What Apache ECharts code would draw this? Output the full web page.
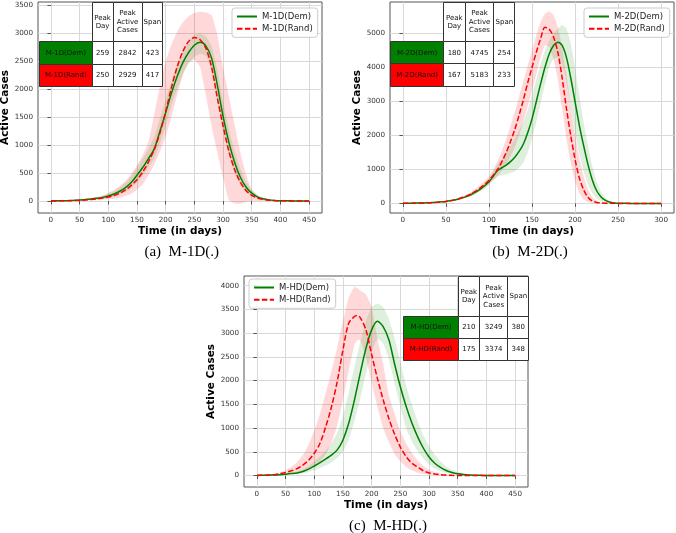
<!DOCTYPE html>
<html><head><meta charset="utf-8">
<script src="https://cdn.jsdelivr.net/npm/echarts@6/dist/echarts.min.js"></script>
<style>html,body{margin:0;padding:0;background:#fff}#c{width:676px;height:533px}</style>
</head><body><div id="c"></div>
<script>
// ---------- DATA ----------
// Panel (a) M-1D
const daysA = [0,10,20,30,40,50,60,70,80,90,100,110,120,130,140,150,160,170,180,190,200,210,220,230,240,250,260,270,280,290,300,310,320,330,340,350,360,370,380,390,400,410,420,430,440,450];
const demA   = [2,3,5,8,12,18,25,35,48,65,90,125,175,240,330,460,600,760,930,1250,1580,1930,2230,2480,2660,2790,2842,2780,2560,2080,1520,1060,700,430,250,140,75,40,20,10,5,3,2,1,1,0];
const demAHi = [3,4,6,10,15,25,35,48,65,90,130,175,240,330,450,600,760,930,1150,1480,1820,2150,2450,2680,2860,2970,3000,2950,2780,2350,1800,1300,900,580,350,200,110,60,30,15,8,4,3,2,1,1];
const demALo = [1,2,3,5,8,12,17,24,32,42,55,80,115,160,230,330,450,600,760,1030,1340,1700,2000,2280,2460,2580,2640,2600,2340,1800,1250,820,500,290,160,80,40,20,10,5,2,1,0,0,0,0];
const randA   = [1,2,3,5,8,12,18,26,37,52,72,100,140,200,280,380,520,700,920,1220,1600,2030,2400,2680,2860,2929,2890,2740,2400,1850,1350,900,570,340,190,100,55,28,14,7,3,2,1,1,0,0];
const randAHi = [3,4,6,10,16,25,36,52,72,100,145,200,270,360,490,640,820,1060,1540,2060,2500,2800,3030,3200,3310,3370,3390,3380,3330,2980,2400,1880,1380,880,480,210,90,40,18,9,4,2,1,1,0,0];
const randALo = [0,0,1,1,2,4,6,9,13,20,30,42,60,90,130,200,300,460,650,880,1150,1500,1900,2250,2480,2530,2400,1900,1350,880,420,20,-40,-50,-20,0,0,0,0,0,0,0,0,0,0,0];

// Panel (b) M-2D
const daysB = [0,5,10,15,20,25,30,35,40,45,50,55,60,65,70,75,80,85,90,95,100,105,110,115,120,125,130,135,140,145,150,155,160,165,170,175,180,185,190,195,200,205,210,215,220,225,230,235,240,245,250,255,260,265,270,275,280,285,290,295,300];
const demB   = [5,6,8,10,12,16,20,27,35,46,60,78,100,130,170,215,270,340,420,520,640,800,970,1050,1130,1230,1360,1530,1750,2080,2490,3000,3520,4000,4400,4650,4745,4650,4300,3700,3000,2300,1700,1150,700,380,200,95,40,15,6,3,2,1,1,0,0,0,0,0,0];
const demBHi = [6,7,9,12,14,19,24,32,42,55,72,92,120,155,200,255,320,400,490,600,720,930,1150,1300,1500,1700,1900,2150,2400,2750,3200,3650,4100,4500,4800,5000,5150,5250,5150,4700,4000,3200,2400,1700,1100,650,350,170,70,25,10,5,3,2,1,1,0,0,0,0,0];
const demBLo = [4,5,7,8,10,13,16,22,28,37,48,64,80,105,140,175,220,280,350,440,550,680,800,820,850,900,950,1050,1200,1500,1900,2400,2950,3500,4000,4250,4300,4100,3600,2900,2100,1450,950,550,300,150,60,20,5,2,1,1,0,0,0,0,0,0,0,0,0];
const randB   = [4,5,7,9,12,15,20,27,35,46,60,80,105,140,180,230,290,370,460,560,680,830,1000,1230,1500,1820,2180,2600,3050,3550,4000,4450,4850,5183,5130,4900,4450,3700,2800,2000,1300,750,400,180,70,30,15,7,3,2,1,1,0,0,0,0,0,0,0,0,0];
const randBHi = [5,6,8,11,14,18,24,32,42,55,72,95,125,165,215,275,350,440,550,670,800,1000,1250,1550,1900,2280,2700,3150,3600,4050,4500,4950,5350,5580,5650,5550,5200,4600,3800,2900,2050,1350,800,420,200,80,30,10,4,2,1,1,0,0,0,0,0,0,0,0,0];
const randBLo = [3,4,6,7,10,12,16,22,28,37,48,65,85,115,150,190,240,310,380,460,560,680,800,960,1150,1380,1650,2000,2400,2850,3300,3800,4300,4650,4620,4250,3650,2800,1900,1200,650,300,120,40,10,3,1,0,0,0,0,0,0,0,0,0,0,0,0,0,0];

// Panel (c) M-HD
const daysC = [0,10,20,30,40,50,60,70,80,90,100,110,120,130,140,150,160,170,175,180,190,200,210,220,230,240,250,260,270,280,290,300,310,320,330,340,350,360,370,380,390,400,410,420,430,440,450];
const demC   = [3,5,8,12,18,28,40,55,85,135,200,270,350,430,540,750,1100,1590,1870,2150,2680,3070,3249,3140,2860,2350,1870,1460,1110,820,580,390,260,170,105,65,38,22,12,7,4,2,1,1,0,0,0];
const demCHi = [4,7,11,17,26,40,58,85,130,200,300,400,520,680,900,1250,1750,2300,2550,2800,3250,3550,3620,3550,3300,2900,2400,1900,1500,1150,850,620,440,300,190,120,70,40,22,12,6,3,2,1,0,0,0];
const demCLo = [2,3,5,8,12,18,25,35,50,75,110,160,210,280,370,500,750,1150,1370,1600,2150,2600,2880,2780,2450,1950,1450,1000,720,520,360,240,150,90,55,30,15,8,4,2,1,0,0,0,0,0,0];
const randC   = [3,6,10,18,40,65,100,145,220,320,470,680,1030,1450,1980,2650,3210,3350,3374,3330,3070,2550,2050,1600,1200,870,600,400,260,180,100,55,30,15,8,4,2,1,1,0,0,0,0,0,0,0,0];
const randCHi = [5,10,18,35,60,110,180,280,430,650,950,1300,1750,2200,2700,3250,3750,3980,3950,3900,3820,3550,2900,2350,1700,1300,930,680,480,320,200,120,70,40,20,10,5,2,1,1,0,0,0,0,0,0,0];
const randCLo = [1,2,4,8,18,35,50,70,100,140,200,300,450,700,1050,1600,2200,2750,2850,2850,2500,1950,1450,1000,700,450,300,180,110,60,30,15,8,4,2,1,0,0,0,0,0,0,0,0,0,0,0];

// Tick labels
const xTicksA = [0,50,100,150,200,250,300,350,400,450];
const yTicksA = [0,500,1000,1500,2000,2500,3000,3500];
const xTicksB = [0,50,100,150,200,250,300];
const yTicksB = [0,1000,2000,3000,4000,5000];
const xTicksC = [0,50,100,150,200,250,300,350,400,450];
const yTicksC = [0,500,1000,1500,2000,2500,3000,3500,4000];

// Series names, table contents, captions
const namesA = ['M-1D(Dem)','M-1D(Rand)'];
const namesB = ['M-2D(Dem)','M-2D(Rand)'];
const namesC = ['M-HD(Dem)','M-HD(Rand)'];
const tableHeader = ['Peak\nDay','Peak\nActive\nCases','Span'];
const tableA = [[259,2842,423],[250,2929,417]];
const tableB = [[180,4745,254],[167,5183,233]];
const tableC = [[210,3249,380],[175,3374,348]];
const captions = ['(a)  M-1D(.)','(b)  M-2D(.)','(c)  M-HD(.)'];
const xTitle = 'Time (in days)';
const yTitle = 'Active Cases';

// ---------- LAYOUT ----------
const F = 'DejaVu Sans';
const panels = [
  {days:daysA, dem:demA, demHi:demAHi, demLo:demALo, rand:randA, randHi:randAHi, randLo:randALo,
   names:namesA, table:tableA, xTicks:xTicksA, yTicks:yTicksA,
   grid:{left:38,top:2,width:284,height:211}, xMin:-22.5, xMax:472.5, yMin:-215, yMax:3565,
   yGap:23, legend:{left:232,top:8},
   cols:[39,91.7,112.5,141.5,162.3], rows:[2,41.3,63.7,86], cap:{x:181.7,y:252}},
  {days:daysB, dem:demB, demHi:demBHi, demLo:demBLo, rand:randB, randHi:randBHi, randLo:randBLo,
   names:namesB, table:tableB, xTicks:xTicksB, yTicks:yTicksB,
   grid:{left:390,top:2,width:284,height:211}, xMin:-15, xMax:315, yMin:-282, yMax:5930,
   yGap:24.5, legend:{left:584,top:8},
   cols:[390.3,443,464.7,493.3,514.3], rows:[2,41.3,63.3,86], cap:{x:530,y:252}},
  {days:daysC, dem:demC, demHi:demCHi, demLo:demCLo, rand:randC, randHi:randCHi, randLo:randCLo,
   names:namesC, table:tableC, xTicks:xTicksC, yTicks:yTicksC,
   grid:{left:244,top:276,width:284,height:211}, xMin:-22.5, xMax:472.5, yMin:-242, yMax:4205,
   yGap:25, legend:{left:249,top:279},
   cols:[403.3,457.7,479,507.3,528.3], rows:[275.7,315.7,338,360], cap:{x:388,y:526}}
];

function pairs(d, v){ return d.map((x,i)=>[x, v[i]]); }

function band(k, days, lo, hi, color, opacity){
  return {
    type:'custom', xAxisIndex:k, yAxisIndex:k, silent:true, z:2, animation:false,
    data: days.map((x,i)=>[x, lo[i], hi[i]]),
    encode:{x:0, y:[1,2]},
    renderItem:(params, api)=>{
      if (params.dataIndex !== 0) return null;
      const pts = [];
      for (let i=0;i<days.length;i++) pts.push(api.coord([days[i], hi[i]]));
      for (let i=days.length-1;i>=0;i--) pts.push(api.coord([days[i], lo[i]]));
      return {type:'polygon', shape:{points:pts, smooth:0.15}, style:{fill:color, opacity:opacity}};
    }
  };
}

const series = [];
panels.forEach((p,k)=>{
  const base = {type:'line', xAxisIndex:k, yAxisIndex:k, symbol:'none', smooth:0.3, silent:true, animation:false};
  series.push(band(k, p.days, p.randLo, p.randHi, '#ff0000', 0.15));
  series.push(band(k, p.days, p.demLo, p.demHi, '#008000', 0.13));
  series.push(Object.assign({}, base, {name:p.names[0], data:pairs(p.days,p.dem), color:'#008000', lineStyle:{color:'#008000', width:1.5}, z:3}));
  series.push(Object.assign({}, base, {name:p.names[1], data:pairs(p.days,p.rand), color:'#ff0000', lineStyle:{color:'#ff0000', width:1.5, type:[5.5,2.4]}, z:4}));
});

const graphic = [];
panels.forEach((p,k)=>{
  const c = p.cols, r = p.rows;
  const txt = (x,y,t,fill)=>({type:'text', z:100, style:{text:t, x:x, y:y, align:'center', verticalAlign:'middle', fontFamily:F, fontSize:7, lineHeight:8.5, fill:fill||'#111'}});
  const rect = (x0,y0,x1,y1,fill)=>({type:'rect', z:99, shape:{x:Math.round(x0)+0.5, y:Math.round(y0)+0.5, width:Math.round(x1)-Math.round(x0), height:Math.round(y1)-Math.round(y0)}, style:{fill:fill, stroke:'#333', lineWidth:1}});
  for (let j=0;j<3;j++){
    graphic.push(rect(c[j+1],r[0],c[j+2],r[1],'#ffffff'));
    graphic.push(txt((c[j+1]+c[j+2])/2+0.5,(r[0]+r[1])/2+0.5,tableHeader[j]));
  }
  for (let i=0;i<2;i++){
    graphic.push(rect(c[0],r[i+1],c[1],r[i+2], i===0?'#008000':'#ff0000'));
    graphic.push(txt((c[0]+c[1])/2+0.5,(r[i+1]+r[i+2])/2+0.5,p.names[i],'#111'));
    for (let j=0;j<3;j++){
      graphic.push(rect(c[j+1],r[i+1],c[j+2],r[i+2],'#ffffff'));
      graphic.push(txt((c[j+1]+c[j+2])/2+0.5,(r[i+1]+r[i+2])/2+0.5,String(p.table[i][j])));
    }
  }
  graphic.push({type:'text', z:100, style:{text:captions[k], x:p.cap.x, y:p.cap.y, align:'center', verticalAlign:'middle', fontFamily:'Liberation Serif', fontSize:15, fill:'#000'}});
});

const option = {
  animation:false,
  backgroundColor:'#ffffff',
  grid: panels.map(p=>({left:p.grid.left, top:p.grid.top, width:p.grid.width, height:p.grid.height, show:true, borderColor:'#555', borderWidth:1, backgroundColor:'transparent', containLabel:false, outerBoundsMode:'none'})),
  xAxis: panels.map((p,k)=>({
    type:'value', gridIndex:k, min:p.xMin, max:p.xMax,
    name:xTitle, nameLocation:'middle', nameGap:13,
    nameTextStyle:{fontFamily:F, fontWeight:'bold', fontSize:10.5, color:'#000'},
    axisLine:{show:false},
    axisTick:{show:true, length:3.5, lineStyle:{color:'#555'}, customValues:p.xTicks},
    axisLabel:{customValues:p.xTicks, fontFamily:F, fontSize:7.2, color:'#333', margin:4, formatter:v=>String(v)},
    splitLine:{show:true, lineStyle:{color:'#d9d9d9', width:1}}
  })),
  yAxis: panels.map((p,k)=>({
    type:'value', gridIndex:k, min:p.yMin, max:p.yMax,
    name:yTitle, nameLocation:'middle', nameGap:p.yGap,
    nameTextStyle:{fontFamily:F, fontWeight:'bold', fontSize:10.5, color:'#000'},
    axisLine:{show:false},
    axisTick:{show:true, length:3.5, lineStyle:{color:'#555'}, customValues:p.yTicks},
    axisLabel:{customValues:p.yTicks, fontFamily:F, fontSize:7.2, color:'#333', margin:5, formatter:v=>String(v)},
    splitLine:{show:true, lineStyle:{color:'#d9d9d9', width:1}}
  })),
  legend: panels.map(p=>({
    data:p.names, left:p.legend.left, top:p.legend.top, orient:'vertical',
    itemWidth:20, itemHeight:8, itemGap:3.3, padding:[4,5,4,4],
    borderColor:'#cccccc', borderWidth:1, borderRadius:3, backgroundColor:'rgba(255,255,255,0.85)',
    itemStyle:{opacity:0},
    textStyle:{fontFamily:F, fontSize:8.5, color:'#222'}, selectedMode:false, z:50
  })),
  series: series,
  graphic: graphic
};
const chart = echarts.init(document.getElementById('c'), null, {renderer:'canvas'});
chart.setOption(option);
</script></body></html>
